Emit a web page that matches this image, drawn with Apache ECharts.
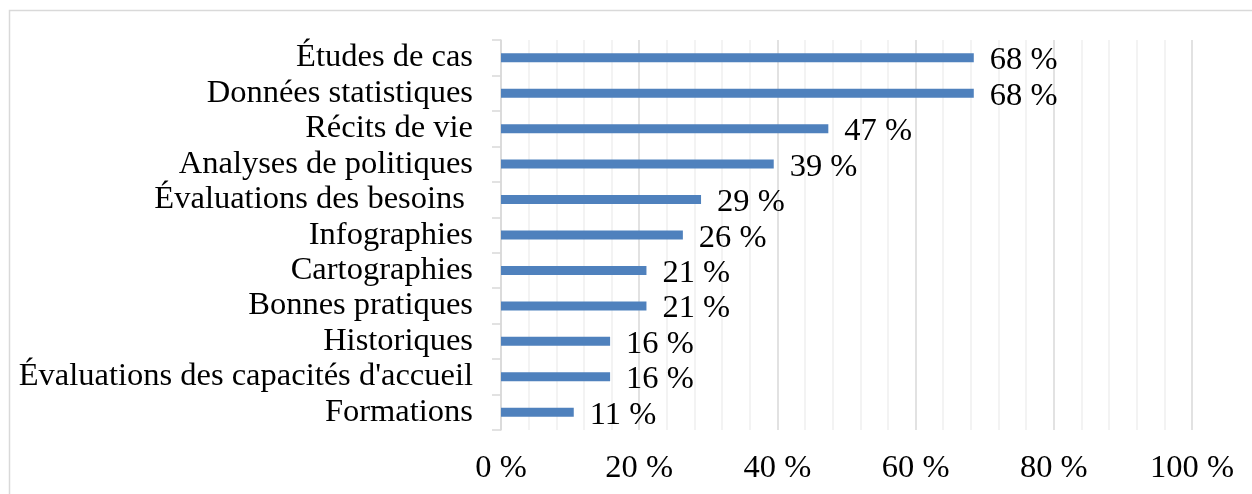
<!DOCTYPE html>
<html><head><meta charset="utf-8">
<script src="https://cdn.jsdelivr.net/npm/echarts@6/dist/echarts.min.js"></script>
<style>html,body{margin:0;padding:0;background:#fff}#c{width:1252px;height:494px}</style>
</head><body><div id="c"></div>
<script>
const categories = ["Études de cas","Données statistiques","Récits de vie","Analyses de politiques","Évaluations des besoins ","Infographies","Cartographies","Bonnes pratiques","Historiques","Évaluations des capacités d'accueil","Formations"];
const values = [68.42,68.42,47.37,39.47,28.95,26.32,21.05,21.05,15.79,15.79,10.53];
const xTicks = [0,20,40,60,80,100];

const chart = echarts.init(document.getElementById('c'), null, {renderer:'canvas'});
const font = '"Liberation Serif","Times New Roman",serif';
chart.setOption({
  animation:false,
  graphic:[{type:'rect',shape:{x:9.5,y:10.5,width:1260,height:500},style:{fill:'none',stroke:'#d9d9d9',lineWidth:1.5},z:-1}],
  grid:{left:501,right:60,top:40,bottom:64,containLabel:false},
  xAxis:{type:'value',min:xTicks[0],max:xTicks[xTicks.length-1],interval:20,
    axisLine:{show:false},axisTick:{show:false},
    axisLabel:{formatter:v=>v+' %',fontFamily:font,fontSize:32.5,color:'#000',margin:22},
    splitLine:{show:true,lineStyle:{color:'#d9d9d9',width:1.5}},
    minorTick:{show:false,splitNumber:5},
    minorSplitLine:{show:true,lineStyle:{color:'#f0f0f0',width:1.5}}
  },
  yAxis:{type:'category',data:categories,inverse:true,
    axisLine:{show:true,lineStyle:{color:'#d9d9d9',width:1.5}},
    axisTick:{show:true,length:9,lineStyle:{color:'#d9d9d9',width:1.5}},
    axisLabel:{interval:0,fontFamily:font,fontSize:32.5,color:'#000',margin:28}
  },
  series:[{type:'bar',data:values,barWidth:9,itemStyle:{color:'#4f81bd'},
    label:{show:true,position:'right',distance:16,formatter:p=>Math.round(p.value)+' %',fontFamily:font,fontSize:32.5,color:'#000',offset:[0,3]}}]
});
</script></body></html>
